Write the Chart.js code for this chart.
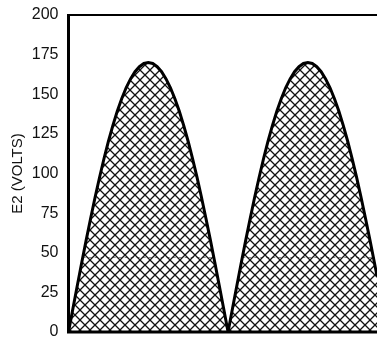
<!DOCTYPE html>
<html>
<head>
<meta charset="utf-8">
<script src="https://cdn.jsdelivr.net/npm/chart.js@4/dist/chart.umd.min.js"></script>
<style>
  html, body { margin: 0; padding: 0; background: #fff; overflow: hidden; }
  #wrap { width: 377px; height: 337px; }
</style>
</head>
<body>
<div id="wrap"><canvas id="chart" width="377" height="337"></canvas></div>
<script>
// rectified sine (x in degrees)
const xDegrees = [0, 5, 10, 15, 20, 25, 30, 35, 40, 45, 50, 55, 60, 65, 70, 75, 80, 85, 90,
  95, 100, 105, 110, 115, 120, 125, 130, 135, 140, 145, 150, 155, 160, 165, 170, 175, 180,
  185, 190, 195, 200, 205, 210, 215, 220, 225, 230, 235, 240, 245, 250, 255, 260, 265, 270,
  275, 280, 285, 290, 295, 300, 305, 310, 315, 320, 325, 330, 335, 340, 345, 348];
const e2Volts = [0, 14.8, 29.5, 44.0, 58.1, 71.8, 85.0, 97.5, 109.3, 120.2, 130.2, 139.3, 147.2, 154.1, 159.7, 164.2, 167.4, 169.4, 170,
  169.4, 167.4, 164.2, 159.7, 154.1, 147.2, 139.3, 130.2, 120.2, 109.3, 97.5, 85.0, 71.8, 58.1, 44.0, 29.5, 14.8, 0,
  14.8, 29.5, 44.0, 58.1, 71.8, 85.0, 97.5, 109.3, 120.2, 130.2, 139.3, 147.2, 154.1, 159.7, 164.2, 167.4, 169.4, 170,
  169.4, 167.4, 164.2, 159.7, 154.1, 147.2, 139.3, 130.2, 120.2, 109.3, 97.5, 85.0, 71.8, 58.1, 44.0, 35.3];

// faint dashed level inside the humps
const levelX = [16, 164, 180, 196, 344];
const levelY = [47, 47, null, 47, 47];

const yTicks = [0, 25, 50, 75, 100, 125, 150, 175, 200];

// crosshatch pattern
function makeHatch() {
    const c = document.createElement('canvas');
    c.width = 10; c.height = 10;
    const g = c.getContext('2d');
    g.strokeStyle = '#111';
    g.lineWidth = 1.3;
    for (let o = -10; o <= 10; o += 10) {
        g.beginPath();
        g.moveTo(o, 0); g.lineTo(o + 10, 10);
        g.moveTo(o + 10, 0); g.lineTo(o, 10);
        g.stroke();
    }
    return g.createPattern(c, 'repeat');
}

// frame: thick left/bottom, thinner top
const framePlugin = {
    id: 'frame',
    afterDatasetsDraw(chart) {
        const a = chart.chartArea;
        const ctx = chart.ctx;
        ctx.save();
        ctx.strokeStyle = '#000';
        ctx.lineWidth = 2;
        ctx.beginPath();
        ctx.moveTo(a.left, a.top);
        ctx.lineTo(chart.width, a.top);
        ctx.stroke();
        ctx.lineWidth = 3;
        ctx.beginPath();
        ctx.moveTo(a.left, a.top - 1);
        ctx.lineTo(a.left, a.bottom);
        ctx.lineTo(chart.width, a.bottom);
        ctx.stroke();
        ctx.restore();
    }
};

const ctx = document.getElementById('chart').getContext('2d');
new Chart(ctx, {
    type: 'line',
    data: {
        datasets: [{
            data: levelX.map((x, i) => ({ x: x, y: levelY[i] })),
            borderColor: 'rgba(0,0,0,0.45)',
            borderWidth: 1,
            borderDash: [3, 3],
            pointRadius: 0,
            spanGaps: false,
            fill: false
        }, {
            data: xDegrees.map((x, i) => ({ x: x, y: e2Volts[i] })),
            borderColor: '#000',
            borderWidth: 3,
            backgroundColor: makeHatch(),
            pointRadius: 0,
            tension: 0,
            fill: 'origin'
        }]
    },
    options: {
        responsive: false,
        animation: false,
        layout: { padding: { left: 9, top: 15, right: 0, bottom: 5 } },
        plugins: {
            legend: { display: false },
            tooltip: { enabled: false }
        },
        scales: {
            x: {
                type: 'linear',
                min: 0,
                max: 348,
                display: false
            },
            y: {
                min: 0,
                max: 200,
                afterBuildTicks: (s) => { s.ticks = yTicks.map(v => ({ value: v })); },
                afterFit: (s) => {
                    s.width = 59.5;
                    s.paddingTop = 0;
                    s.paddingBottom = 0;
                },
                grid: { display: false, drawTicks: false },
                border: { display: false },
                ticks: {
                    padding: 10,
                    color: '#111',
                    font: { family: 'Liberation Sans', size: 16 }
                },
                title: {
                    display: true,
                    text: 'E2 (VOLTS)',
                    color: '#111',
                    padding: 0,
                    font: { family: 'Liberation Sans', size: 15 }
                }
            }
        }
    },
    plugins: [framePlugin]
});
</script>
</body>
</html>
